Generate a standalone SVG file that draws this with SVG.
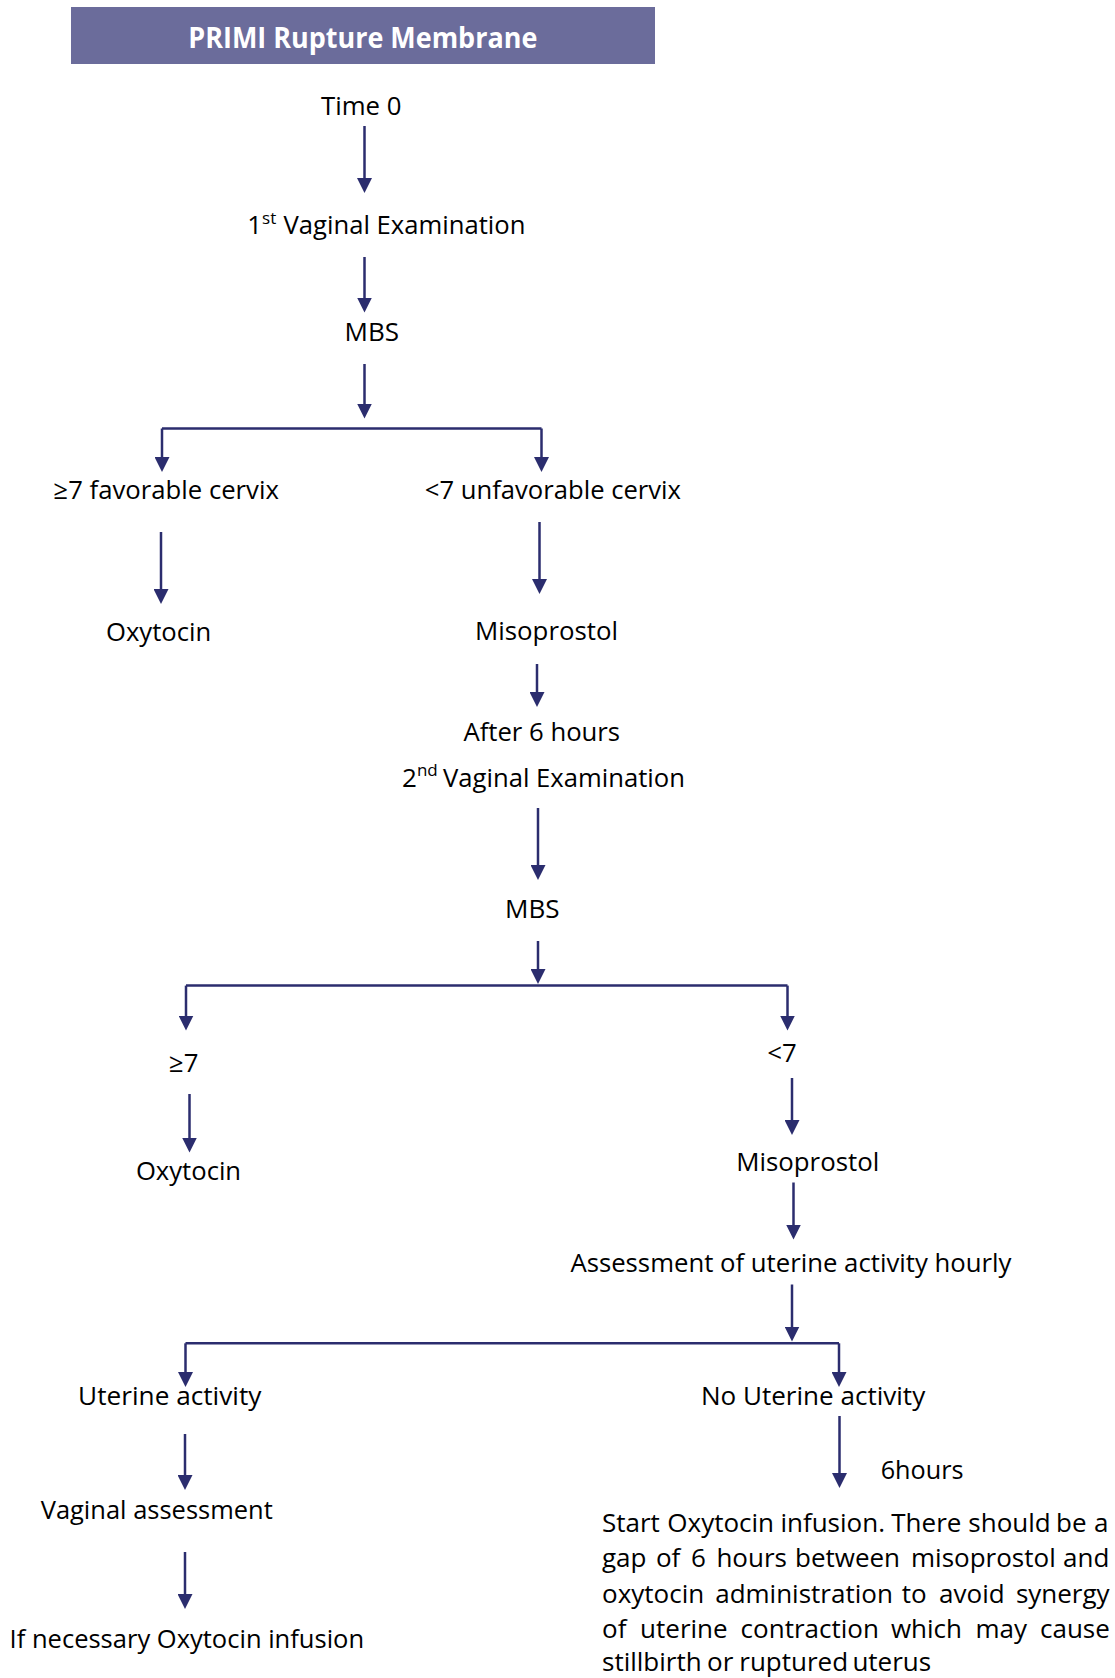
<svg xmlns="http://www.w3.org/2000/svg" width="1115" height="1678" viewBox="0 0 1115 1678">
  <style>
    .lbl { font-family: "Open Sans", "Noto Sans", "Liberation Sans", sans-serif; font-size: 26px; fill: #000; }
    .sup { font-size: 17px; }
    .title { font-family: "Open Sans", "Noto Sans", "Liberation Sans", sans-serif; font-size: 28px; font-weight: bold; fill: #fff; }
    .head { fill: #6b6c9b; }
    .wire { fill: none; stroke: #2b2d6e; stroke-width: 2.5; }
    .flow { fill: none; stroke: #2b2d6e; stroke-width: 2.5; marker-end: url(#tip); }
  </style>
  <defs>
    <marker id="tip" viewBox="0 0 15 15" refX="5" refY="7.5" markerWidth="15" markerHeight="15" markerUnits="userSpaceOnUse" orient="auto">
      <path d="M0,0 L15,7.5 L0,15 Z" fill="#2b2d6e"/>
    </marker>
  </defs>

  <rect width="1115" height="1678" fill="#fff"/>

  <!-- title bar -->
  <g id="title">
    <rect class="head" x="71" y="7" width="584" height="57"/>
    <text class="title" x="362.8" y="47.5" text-anchor="middle" textLength="349" lengthAdjust="spacingAndGlyphs">PRIMI Rupture Membrane</text>
  </g>

  <!-- nodes -->
  <g id="time0"><text class="lbl" x="321" y="115" textLength="80.5" lengthAdjust="spacingAndGlyphs">Time 0</text></g>
  <g id="exam1">
    <text class="lbl" x="247.2" y="234.4">1</text>
    <text class="lbl sup" x="262.1" y="224.2">st</text>
    <text class="lbl" x="283.5" y="234.4" textLength="242" lengthAdjust="spacingAndGlyphs">Vaginal Examination</text>
  </g>
  <g id="mbs1"><text class="lbl" x="344.6" y="341.4" textLength="54.5" lengthAdjust="spacingAndGlyphs">MBS</text></g>
  <g id="fav1"><text class="lbl" x="53.5" y="498.7" textLength="225.4" lengthAdjust="spacingAndGlyphs">≥7 favorable cervix</text></g>
  <g id="unfav1"><text class="lbl" x="424.8" y="498.7" textLength="256.2" lengthAdjust="spacingAndGlyphs">&lt;7 unfavorable cervix</text></g>
  <g id="oxy1"><text class="lbl" x="106" y="641" textLength="105.2" lengthAdjust="spacingAndGlyphs">Oxytocin</text></g>
  <g id="miso1"><text class="lbl" x="475" y="640" textLength="143.1" lengthAdjust="spacingAndGlyphs">Misoprostol</text></g>
  <g id="after6"><text class="lbl" x="463.4" y="740.5" textLength="156.7" lengthAdjust="spacingAndGlyphs">After 6 hours</text></g>
  <g id="exam2">
    <text class="lbl" x="402" y="786.5">2</text>
    <text class="lbl sup" x="416.9" y="776.3">nd</text>
    <text class="lbl" x="443" y="786.5" textLength="242" lengthAdjust="spacingAndGlyphs">Vaginal Examination</text>
  </g>
  <g id="mbs2"><text class="lbl" x="505.1" y="918" textLength="54.5" lengthAdjust="spacingAndGlyphs">MBS</text></g>
  <g id="fav2"><text class="lbl" x="169" y="1072" textLength="29.5" lengthAdjust="spacingAndGlyphs">≥7</text></g>
  <g id="unfav2"><text class="lbl" x="767.3" y="1061.5" textLength="29.5" lengthAdjust="spacingAndGlyphs">&lt;7</text></g>
  <g id="oxy2"><text class="lbl" x="135.9" y="1180" textLength="105.2" lengthAdjust="spacingAndGlyphs">Oxytocin</text></g>
  <g id="miso2"><text class="lbl" x="736.2" y="1170.7" textLength="143.1" lengthAdjust="spacingAndGlyphs">Misoprostol</text></g>
  <g id="assess"><text class="lbl" x="570.4" y="1272.3" textLength="441" lengthAdjust="spacingAndGlyphs">Assessment of uterine activity hourly</text></g>
  <g id="uterine"><text class="lbl" x="78.1" y="1405" textLength="183.3" lengthAdjust="spacingAndGlyphs">Uterine activity</text></g>
  <g id="no-uterine"><text class="lbl" x="700.9" y="1405" textLength="224.3" lengthAdjust="spacingAndGlyphs">No Uterine activity</text></g>
  <g id="wait6"><text class="lbl" x="880.7" y="1478.9" textLength="82.8" lengthAdjust="spacingAndGlyphs">6hours</text></g>
  <g id="vag-assess"><text class="lbl" x="40.7" y="1518.5" textLength="232.1" lengthAdjust="spacingAndGlyphs">Vaginal assessment</text></g>
  <g id="oxy-if"><text class="lbl" x="9.6" y="1648" textLength="354.5" lengthAdjust="spacingAndGlyphs">If necessary Oxytocin infusion</text></g>

  <!-- justified note: each word placed at its own start -->
  <g id="oxy-start">
    <text class="lbl" y="1532"><tspan x="602">Start</tspan><tspan x="667.3">Oxytocin</tspan><tspan x="780.4">infusion.</tspan><tspan x="891.3">There</tspan><tspan x="968.3">should</tspan><tspan x="1056">be</tspan><tspan x="1094">a</tspan></text>
    <text class="lbl" y="1567.3"><tspan x="602">gap</tspan><tspan x="655.9">of</tspan><tspan x="690.9">6</tspan><tspan x="716.4">hours</tspan><tspan x="795">between</tspan><tspan x="911">misoprostol</tspan><tspan x="1063.1">and</tspan></text>
    <text class="lbl" y="1602.6"><tspan x="602">oxytocin</tspan><tspan x="715.2">administration</tspan><tspan x="901.8">to</tspan><tspan x="939.1">avoid</tspan><tspan x="1015.9">synergy</tspan></text>
    <text class="lbl" y="1637.9"><tspan x="602">of</tspan><tspan x="640.1">uterine</tspan><tspan x="740.6">contraction</tspan><tspan x="890.9">which</tspan><tspan x="975.5">may</tspan><tspan x="1040">cause</tspan></text>
    <text class="lbl" y="1671"><tspan x="602">stillbirth</tspan><tspan x="707">or</tspan><tspan x="739.3">ruptured</tspan><tspan x="852.4">uterus</tspan></text>
  </g>

  <!-- connectors -->
  <g id="connectors">
    <path class="flow" d="M364.5,126 V183"/>
    <path class="flow" d="M364.5,257 V302.5"/>
    <path class="flow" d="M364.5,364 V408.5"/>
    <path class="wire" d="M162,428.5 H541.5"/>
    <path class="flow" d="M162,428.5 V462"/>
    <path class="flow" d="M541.5,428.5 V462"/>
    <path class="flow" d="M161,532 V594"/>
    <path class="flow" d="M539.5,522 V584"/>
    <path class="flow" d="M537,664 V697"/>
    <path class="flow" d="M538,808 V870"/>
    <path class="flow" d="M538,941 V974"/>
    <path class="wire" d="M186,985.6 H787.5"/>
    <path class="flow" d="M186,985.6 V1020.5"/>
    <path class="flow" d="M787.5,985.6 V1020.5"/>
    <path class="flow" d="M189.5,1094 V1142.5"/>
    <path class="flow" d="M792,1078 V1125"/>
    <path class="flow" d="M793.5,1182.5 V1229.5"/>
    <path class="flow" d="M792,1284.5 V1331.5"/>
    <path class="wire" d="M185.5,1343.3 H839"/>
    <path class="flow" d="M185.5,1343.3 V1377"/>
    <path class="flow" d="M839,1343.3 V1377"/>
    <path class="flow" d="M185,1434 V1480"/>
    <path class="flow" d="M185,1552 V1599"/>
    <path class="flow" d="M839.5,1416 V1478"/>
  </g>
</svg>
